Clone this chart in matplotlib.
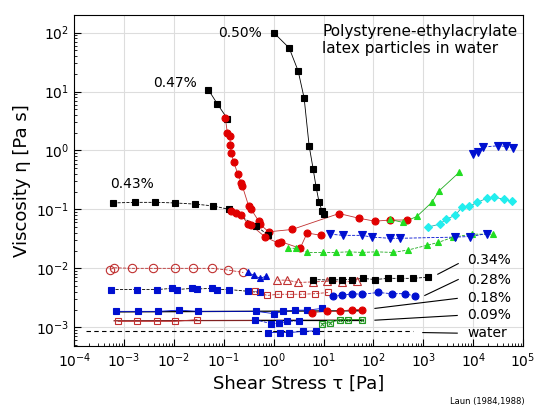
import matplotlib
matplotlib.use('Agg')
import matplotlib.pyplot as plt
import numpy as np

# data, as log10 values (x = shear stress, y = viscosity)
c050_x = [0.0, 0.31, 0.49, 0.61, 0.71, 0.79, 0.85, 0.91, 0.97, 1.01]
c050_y = [2.0, 1.74, 1.35, 0.89, 0.08, -0.31, -0.62, -0.88, -1.03, -1.08]

c047_x = [-1.31, -1.13, -0.93]
c047_y = [1.03, 0.79, 0.54]
red047_x = [-0.97, -0.93, -0.88, -0.87, -0.85, -0.8, -0.72, -0.65, -0.63, -0.5, -0.45,
            -0.3, -0.28, -0.1, 0.37, 1.31, 1.71, 2.03, 2.33, 2.67]
red047_y = [0.55, 0.30, 0.25, 0.10, -0.05, -0.2, -0.4, -0.55, -0.6, -0.95, -1.0,
            -1.2, -1.25, -1.38, -1.34, -1.07, -1.15, -1.2, -1.18, -1.18]

c043_x = [-3.22, -2.78, -2.38, -1.98, -1.58, -1.22, -0.89, -0.35, -0.11]
c043_y = [-0.89, -0.88, -0.88, -0.89, -0.91, -0.94, -1.0, -1.28, -1.44]
red043_x = [-0.85, -0.75, -0.65, -0.51, -0.45, -0.17, 0.09, 0.15, 0.53, 0.67, 0.95]
red043_y = [-1.02, -1.06, -1.1, -1.25, -1.27, -1.47, -1.57, -1.55, -1.66, -1.40, -1.44]

grn_lo_x = [0.29, 0.45, 0.67, 0.99, 1.25, 1.5, 1.77, 2.05, 2.39, 2.69, 3.07, 3.3, 3.6, 3.98, 4.4]
grn_lo_y = [-1.66, -1.66, -1.73, -1.73, -1.73, -1.72, -1.73, -1.72, -1.73, -1.69, -1.61, -1.56, -1.47, -1.42, -1.42]
grn_hi_x = [2.33, 2.59, 2.87, 3.17, 3.31, 3.72]
grn_hi_y = [-1.17, -1.22, -1.12, -0.88, -0.69, -0.37]
cyan_x = [3.09, 3.33, 3.45, 3.64, 3.78, 3.92, 4.08, 4.28, 4.42, 4.62, 4.78]
cyan_y = [-1.3, -1.25, -1.17, -1.1, -0.96, -0.95, -0.88, -0.81, -0.79, -0.83, -0.86]
blu_top_x = [4.0, 4.1, 4.2, 4.5, 4.65, 4.8]
blu_top_y = [-0.06, -0.02, 0.06, 0.08, 0.07, 0.04]
blu_mid_x = [1.13, 1.39, 1.77, 1.97, 2.33, 2.53, 3.64, 3.94, 4.28]
blu_mid_y = [-1.42, -1.44, -1.44, -1.47, -1.49, -1.49, -1.47, -1.46, -1.41]

# 0.34 %
o034_x = [-3.28, -3.2, -2.84, -2.42, -1.98, -1.62, -1.23, -0.91, -0.61]
o034_y = [-2.02, -1.99, -2.0, -2.0, -2.0, -2.0, -2.0, -2.03, -2.07]
bt034_x = [-0.51, -0.4, -0.27, -0.15]
bt034_y = [-2.07, -2.12, -2.17, -2.13]
ot034_x = [0.07, 0.27, 0.49, 0.79, 1.07, 1.37, 1.67]
ot034_y = [-2.2, -2.2, -2.24, -2.23, -2.22, -2.23, -2.22]
s034_x = [0.79, 1.17, 1.37, 1.57, 1.79, 2.03, 2.29, 2.53, 2.79, 3.09]
s034_y = [-2.19, -2.2, -2.19, -2.19, -2.17, -2.19, -2.17, -2.17, -2.17, -2.15]

# 0.28 %
s028_x = [-3.26, -2.74, -2.34, -2.04, -1.94, -1.64, -1.54, -1.23, -1.13, -0.89, -0.51, -0.27]
s028_y = [-2.36, -2.36, -2.36, -2.34, -2.36, -2.34, -2.35, -2.34, -2.36, -2.36, -2.39, -2.41]
os028_x = [-0.37, -0.13, 0.09, 0.33, 0.57, 0.83, 1.09]
os028_y = [-2.39, -2.46, -2.44, -2.44, -2.44, -2.43, -2.41]
c028_x = [1.19, 1.37, 1.57, 1.77, 2.09, 2.37, 2.63, 2.83]
c028_y = [-2.47, -2.46, -2.43, -2.44, -2.41, -2.43, -2.43, -2.47]

# 0.18 %
s018_x = [-3.16, -2.72, -2.32, -1.9, -1.52, -0.35, 0.01, 0.19, 0.43, 0.67, 0.97]
s018_y = [-2.73, -2.73, -2.73, -2.71, -2.73, -2.73, -2.77, -2.73, -2.71, -2.71, -2.68]
c018_x = [0.77, 1.07, 1.33, 1.57, 1.77]
c018_y = [-2.75, -2.73, -2.73, -2.7, -2.7]

# 0.09 %
os009_x = [-3.12, -2.74, -2.34, -1.98, -1.54]
os009_y = [-2.9, -2.9, -2.9, -2.9, -2.87]
s009_x = [-0.37, -0.05, 0.11, 0.27, 0.51]
s009_y = [-2.87, -2.94, -2.93, -2.9, -2.89]
g009_x = [0.97, 1.13, 1.33, 1.49, 1.77]
g009_y = [-2.94, -2.92, -2.87, -2.87, -2.87]

# water
w_x = [-0.11, 0.13, 0.31, 0.59, 0.85]
w_y = [-3.09, -3.09, -3.09, -3.07, -3.06]

labels = ['0.34%', '0.28%', '0.18%', '0.09%', 'water']
label_y = [-1.86, -2.2, -2.5, -2.8, -3.1]
lead_from = [(3.29, -2.1), (3.03, -2.46), (2.03, -2.68), (2.03, -2.88), (2.99, -3.09)]
lead_to = [(3.7, -1.92), (3.7, -2.19), (3.68, -2.51), (3.68, -2.8), (3.68, -3.1)]

P = lambda a: 10.0 ** np.array(a, dtype=float)

fig = plt.figure(figsize=(5.5, 4.16), dpi=100)
ax = fig.add_axes([0.135, 0.168, 0.816, 0.796])
ax.set_xscale('log')
ax.set_yscale('log')
ax.grid(True, which='major', color='#dddddd', lw=0.8)
ax.set_axisbelow(True)

def ser(x, y, m, c, filled=True, ms=5, lc='k', ls='-'):
    ax.plot(P(x), P(y), color=lc, lw=0.6, ls=ls, zorder=2)
    ax.plot(P(x), P(y), ls='none', marker=m, ms=ms, mec=c,
            mfc=c if filled else 'none', mew=0.8, zorder=3)

red, blue, green, cyan = '#e00000', '#0010d0', '#22dd22', '#22eeee'
darkred = '#c03030'

ser(c050_x, c050_y, 's', 'k')
ser(c047_x, c047_y, 's', 'k')
ser(red047_x, red047_y, 'o', red, lc=darkred)
ser(c043_x, c043_y, 's', 'k', ls='--')
ser(red043_x, red043_y, 'o', red, lc=darkred)
ser(grn_lo_x, grn_lo_y, '^', green, lc='#22aa22', ls='--')
ser(grn_hi_x, grn_hi_y, '^', green, lc='#22aa22')
ser(cyan_x, cyan_y, 'D', cyan, ms=4.5, lc='#22aaaa')
ser(blu_top_x, blu_top_y, 'v', blue, ms=6, lc=blue, ls='--')
ser(blu_mid_x, blu_mid_y, 'v', blue, ms=6, lc=blue, ls='--')

ser(o034_x, o034_y, 'o', darkred, filled=False, ms=6, lc=darkred, ls='--')
ser(bt034_x, bt034_y, '^', blue, ms=5, lc=blue)
ser(ot034_x, ot034_y, '^', darkred, filled=False, ms=6, lc=darkred, ls='--')
ser(s034_x, s034_y, 's', 'k', ls='--')

ser(s028_x, s028_y, 's', blue, lc='k', ls='--')
ser(os028_x, os028_y, 's', darkred, filled=False, lc=darkred, ls='--')
ser(c028_x, c028_y, 'o', blue, lc=blue, ls='--')

ax.plot(P([-3.2, 1.8]), P([-2.74, -2.72]), color='k', lw=0.9, zorder=2)
ser(s018_x, s018_y, 's', blue, lc=blue)
ser(c018_x, c018_y, 'o', red, lc=darkred)

ax.plot(P([-3.2, 1.8]), P([-2.89, -2.88]), color='#802020', lw=0.9, zorder=2)
ax.plot(P([-0.4, 1.8]), P([-2.88, -2.88]), color='k', lw=0.9, zorder=2)
ser(os009_x, os009_y, 's', darkred, filled=False, lc=darkred)
ser(s009_x, s009_y, 's', blue, lc=blue, ls='--')
ser(g009_x, g009_y, 's', '#229922', filled=False, ms=5, lc='#229922')
ax.plot(P(g009_x), P(g009_y), ls='none', marker='x', ms=3.5, mec='#229922', mew=0.7, zorder=3)

ax.plot(P([-3.76, 2.79]), P([-3.07, -3.07]), color='k', lw=0.8, ls=(0, (4, 3)), zorder=2)
ser(w_x, w_y, 's', blue, lc=blue)

for lab, ly, a, b in zip(labels, label_y, lead_from, lead_to):
    ax.plot(P([a[0], b[0]]), P([a[1], b[1]]), color='k', lw=0.8)
    ax.text(10 ** 3.88, 10 ** ly, lab, fontsize=10, va='center', ha='left')

ax.text(10 ** -0.23, 10 ** 2.0, '0.50%', fontsize=10, ha='right', va='center')
ax.text(10 ** -2.42, 10 ** 1.15, '0.47%', fontsize=10, ha='left', va='center')
ax.text(10 ** -3.28, 10 ** -0.57, '0.43%', fontsize=10, ha='left', va='center')
ax.text(10 ** 0.97, 10 ** 2.14, 'Polystyrene-ethylacrylate\nlatex particles in water',
        fontsize=11, ha='left', va='top', linespacing=1.1)

ax.set_xlim(1e-4, 1e5)
ax.set_ylim(10 ** -3.32, 10 ** 2.3)
ax.set_xticks(P(range(-4, 6)))
ax.set_yticks(P(range(-3, 3)))
ax.tick_params(which='major', direction='in', length=5, labelsize=10, top=False, right=False)
ax.tick_params(which='minor', direction='in', length=2.5)
ax.set_xlabel('Shear Stress τ [Pa]', fontsize=13)
ax.set_ylabel('Viscosity η [Pa s]', fontsize=13)
fig.text(0.818, 0.03, 'Laun (1984,1988)', fontsize=6)

plt.savefig('out.png', dpi=100)
